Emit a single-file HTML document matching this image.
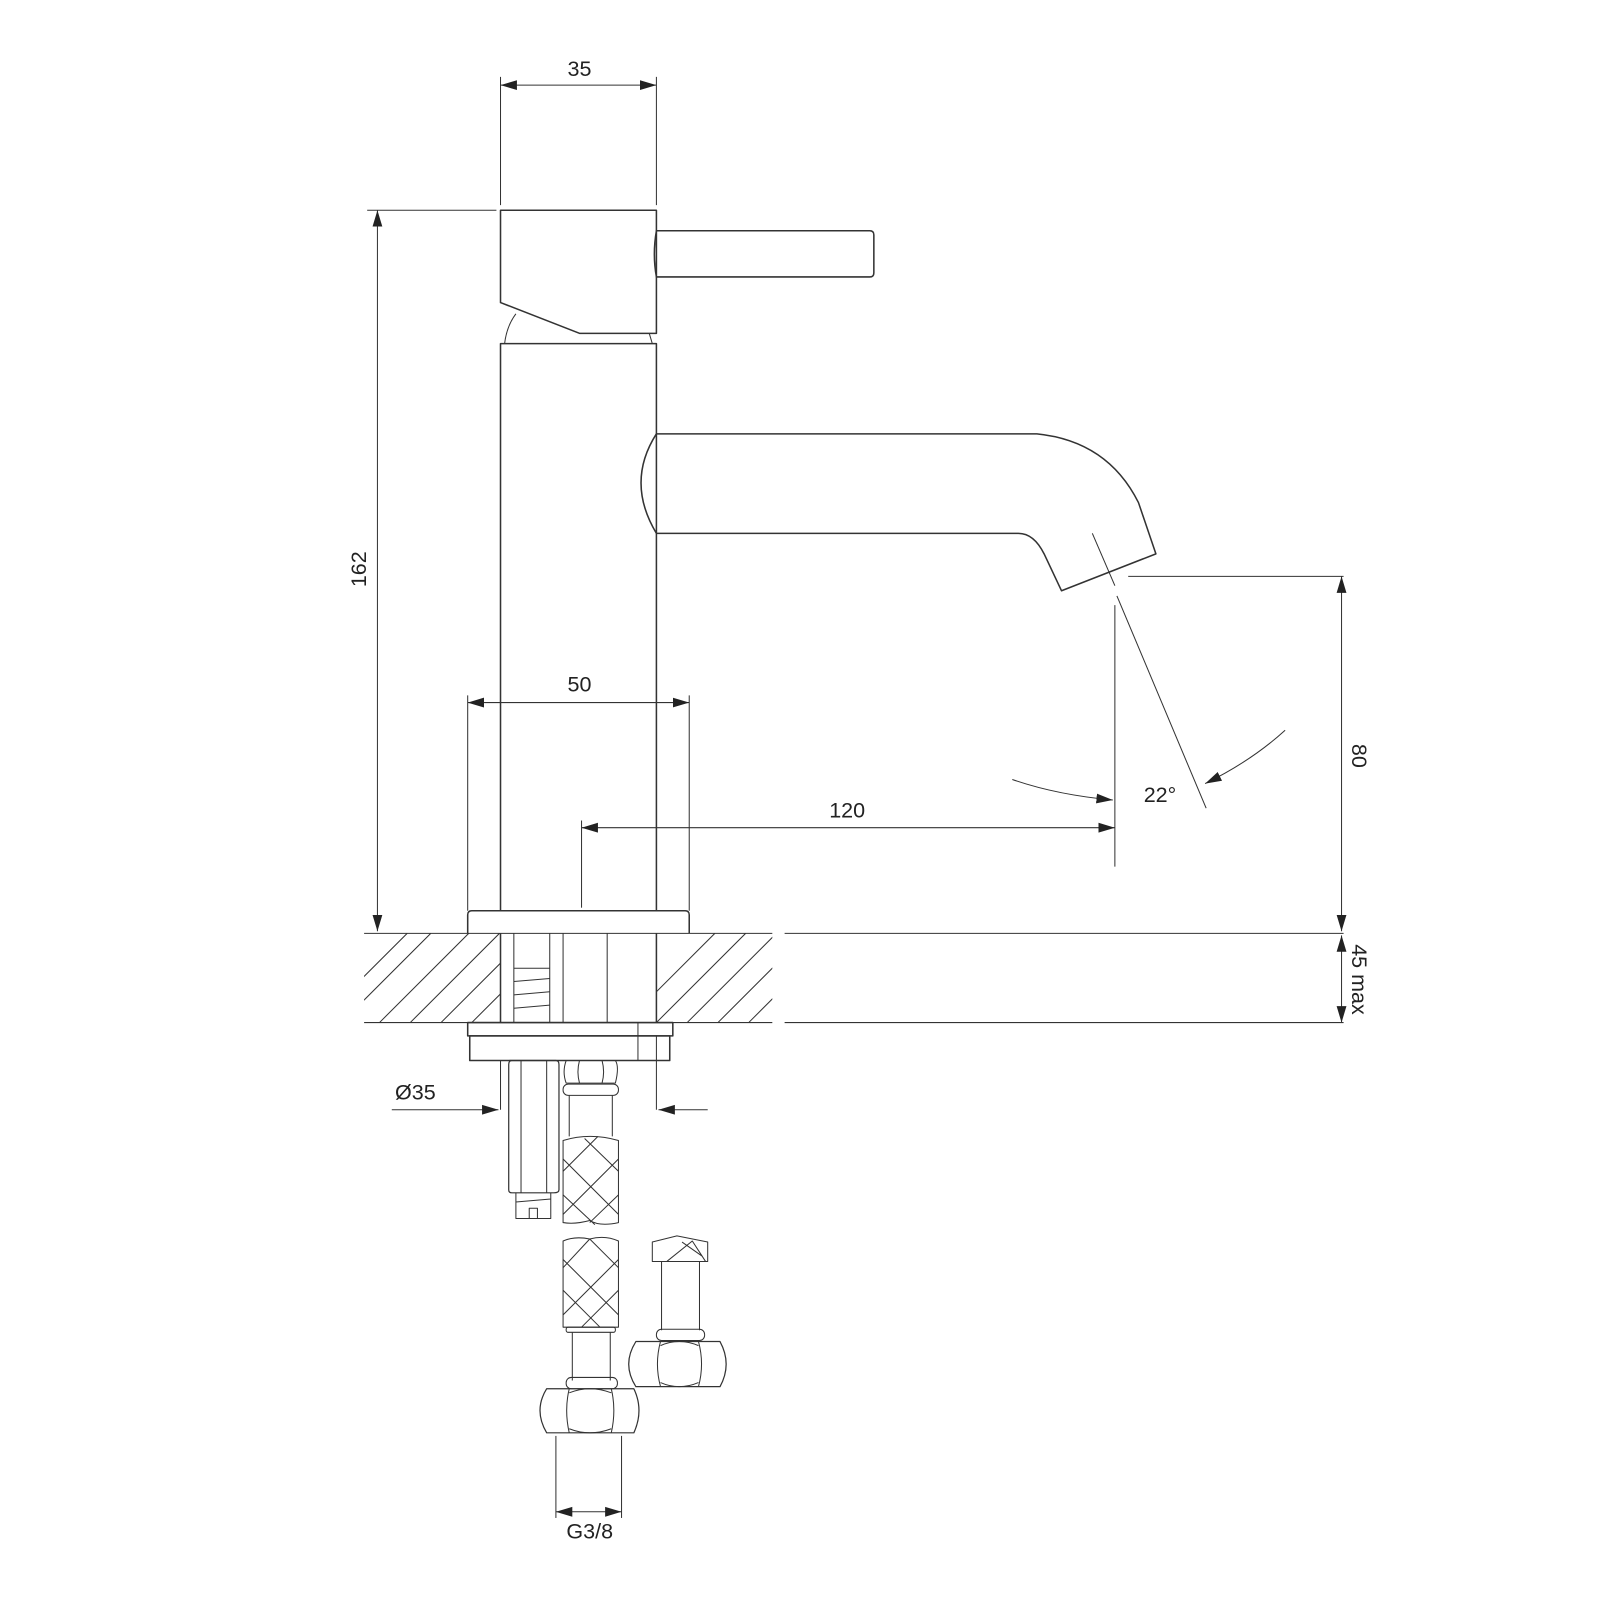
<!DOCTYPE html>
<html><head><meta charset="utf-8"><style>html,body{margin:0;padding:0;background:#fff}svg{display:block}</style></head>
<body>
<svg width="1600" height="1600" viewBox="0 0 1560 1560" xmlns="http://www.w3.org/2000/svg">
<defs>
<marker id="a" viewBox="0 0 10 10" refX="10" refY="5" markerWidth="16" markerHeight="16" markerUnits="userSpaceOnUse" orient="auto-start-reverse"><path d="M0,2 L10,5 L0,8z" fill="#222"/></marker>
<clipPath id="h1"><rect x="355" y="910" width="133" height="87"/></clipPath>
<clipPath id="h2"><rect x="640" y="910" width="113" height="87"/></clipPath>
</defs>
<g fill="none" stroke="#333" stroke-width="1.5" stroke-linejoin="round">
<line x1="488" y1="75" x2="488" y2="200" stroke-width="1"/>
<line x1="640" y1="75" x2="640" y2="200" stroke-width="1"/>
<line x1="488" y1="83" x2="640" y2="83" marker-start="url(#a)" marker-end="url(#a)" stroke-width="1"/>
<line x1="358" y1="205" x2="484" y2="205" stroke-width="1"/>
<line x1="368" y1="205" x2="368" y2="908" marker-start="url(#a)" marker-end="url(#a)" stroke-width="1"/>
<path d="M488,205 H640 V325 H565 L488,295 Z"/>
<path d="M640,225 H848 Q852,225 852,229 V266 Q852,270 848,270 H640 Q636,248 640,225Z"/>
<path d="M492,335 Q494,318 503,306" stroke-width="1"/>
<path d="M633,325 L636,335" stroke-width="1"/>
<rect x="488" y="335" width="152" height="553"/>
<path d="M640,423 H1011 Q1080,430 1110,490 L1127,540 L1035,576 L1018,540 Q1008,520 993,520 H640"/>
<path d="M640,423 Q610,470 640,520"/>
<line x1="1065" y1="520" x2="1087" y2="571" stroke-width="1"/>
<line x1="1089" y1="581" x2="1176" y2="788" stroke-width="1"/>
<line x1="1087" y1="590" x2="1087" y2="845" stroke-width="1"/>
<line x1="1100" y1="562" x2="1310" y2="562" stroke-width="1"/>
<line x1="1308" y1="562" x2="1308" y2="908" marker-start="url(#a)" marker-end="url(#a)" stroke-width="1"/>
<line x1="1308" y1="912" x2="1308" y2="997" marker-start="url(#a)" marker-end="url(#a)" stroke-width="1"/>
<line x1="456" y1="678" x2="456" y2="888" stroke-width="1"/>
<line x1="672" y1="678" x2="672" y2="888" stroke-width="1"/>
<line x1="456" y1="685" x2="672" y2="685" marker-start="url(#a)" marker-end="url(#a)" stroke-width="1"/>
<line x1="567" y1="800" x2="567" y2="885" stroke-width="1"/>
<line x1="567" y1="807" x2="1087" y2="807" marker-start="url(#a)" marker-end="url(#a)" stroke-width="1"/>
<path d="M987,760 Q1030,775 1085,780" marker-end="url(#a)" stroke-width="1"/>
<path d="M1253,712 Q1220,742 1175,764" marker-end="url(#a)" stroke-width="1"/>
<path d="M456,910 V892 Q456,888 460,888 H668 Q672,888 672,892 V910"/>
<line x1="355" y1="910" x2="753" y2="910" stroke-width="1"/>
<line x1="765" y1="910" x2="1310" y2="910" stroke-width="1"/>
<line x1="355" y1="997" x2="753" y2="997" stroke-width="1"/>
<line x1="765" y1="997" x2="1310" y2="997" stroke-width="1"/>
<g clip-path="url(#h1)" stroke-width="1">
<path d="M340,990 L420,910 M370,997 L457,910 M400,997 L487,910 M430,997 L517,910 M460,997 L547,910 M310,997 L397,910"/>
</g>
<g clip-path="url(#h2)" stroke-width="1">
<path d="M610,997 L697,910 M640,997 L727,910 M670,997 L757,910 M700,997 L787,910 M730,997 L817,910"/>
</g>
<line x1="488" y1="910" x2="488" y2="997"/>
<line x1="640" y1="910" x2="640" y2="997"/>
<line x1="501" y1="910" x2="501" y2="997" stroke-width="1"/>
<line x1="536" y1="910" x2="536" y2="997" stroke-width="1"/>
<line x1="549" y1="910" x2="549" y2="997" stroke-width="1"/>
<line x1="592" y1="910" x2="592" y2="997" stroke-width="1"/>
<path d="M501,944 H536 M501,957 L536,954 M501,970 L536,967 M501,983 L536,980" stroke-width="1"/>
<rect x="456" y="997" width="200" height="13"/>
<rect x="458" y="1010" width="195" height="24"/>
<line x1="622" y1="997" x2="622" y2="1034" stroke-width="1"/>
<line x1="488" y1="1034" x2="488" y2="1082" stroke-width="1"/>
<line x1="640" y1="1010" x2="640" y2="1082" stroke-width="1"/>
<line x1="382" y1="1082" x2="486" y2="1082" marker-end="url(#a)" stroke-width="1"/>
<line x1="690" y1="1082" x2="642" y2="1082" marker-end="url(#a)" stroke-width="1"/>
<path d="M497,1034 H542 Q545,1034 545,1038 V1160 Q545,1163 540,1163 H499 Q496,1163 496,1160 V1038 Q496,1034 499,1034Z" stroke-width="1.2"/>
<line x1="508" y1="1034" x2="508" y2="1163" stroke-width="1"/>
<line x1="533" y1="1034" x2="533" y2="1163" stroke-width="1"/>
<path d="M503,1163 V1188 H537 V1163 M503,1172 L537,1169 M516,1188 V1178 H524 V1188" stroke-width="1"/>
<path d="M552,1034 H600 Q604,1040 600,1056 H552 Q548,1045 552,1034Z M565,1034 Q562,1045 565,1056 M587,1034 Q590,1045 587,1056" stroke-width="1"/>
<rect x="549" y="1057" width="54" height="11" rx="5" stroke-width="1"/>
<path d="M555,1068 V1108 M597,1068 V1108" stroke-width="1"/>
<path d="M549,1112 Q575,1104 603,1112 V1192 Q585,1196 575,1190 Q560,1194 549,1192Z" stroke-width="1"/>
<path d="M549,1130 L603,1184 M549,1165 L580,1194 M570,1110 L603,1142 M603,1130 L549,1184 M603,1165 L575,1192 M583,1108 L549,1142" stroke-width="1"/>
<path d="M549,1210 Q560,1205 575,1208 Q590,1204 603,1210 V1294 H549Z" stroke-width="1"/>
<path d="M549,1228 L603,1282 M549,1258 L585,1294 M575,1208 L603,1236 M603,1228 L549,1282 M603,1258 L567,1294 M575,1208 L549,1236" stroke-width="1"/>
<rect x="552" y="1294" width="48" height="5" rx="2" stroke-width="1"/>
<path d="M558,1299 V1346 M595,1299 V1346" stroke-width="1"/>
<rect x="552" y="1343" width="50" height="11" rx="5" stroke-width="1"/>
<path d="M533,1354 H618 Q628,1375 618,1397 H533 Q520,1375 533,1354Z" stroke-width="1.2"/>
<path d="M555,1354 Q550,1375 555,1397 M596,1354 Q601,1375 596,1397 M555,1358 Q575,1350 596,1358 M555,1393 Q575,1401 596,1393" stroke-width="1"/>
<line x1="542" y1="1400" x2="542" y2="1480" stroke-width="1"/>
<line x1="606" y1="1400" x2="606" y2="1480" stroke-width="1"/>
<line x1="542" y1="1474" x2="606" y2="1474" marker-start="url(#a)" marker-end="url(#a)" stroke-width="1"/>
<path d="M636,1211 L660,1205 L690,1211 V1230 H636Z" stroke-width="1"/>
<path d="M650,1230 L675,1210 L688,1230 M665,1211 L685,1225" stroke-width="1"/>
<path d="M645,1230 V1297 M682,1230 V1297" stroke-width="1"/>
<rect x="640" y="1296" width="47" height="11" rx="5" stroke-width="1"/>
<path d="M620,1308 H702 Q714,1330 702,1352 H620 Q606,1330 620,1308Z" stroke-width="1.2"/>
<path d="M644,1308 Q638,1330 644,1352 M681,1308 Q687,1330 681,1352 M644,1312 Q662,1304 681,1312 M644,1348 Q662,1356 681,1348" stroke-width="1"/>
</g>
<g font-family="Liberation Sans, sans-serif" font-size="21" fill="#222" text-anchor="middle">
<text x="565" y="74">35</text>
<text x="565" y="674">50</text>
<text x="826" y="797">120</text>
<text x="1131" y="782">22°</text>
<text x="405" y="1072">Ø35</text>
<text x="575" y="1500">G3/8</text>
<text transform="translate(357,555) rotate(-90)">162</text>
<text transform="translate(1318,737) rotate(90)">80</text>
<text transform="translate(1318,955) rotate(90)">45 max</text>
</g>
</svg>
</body></html>
